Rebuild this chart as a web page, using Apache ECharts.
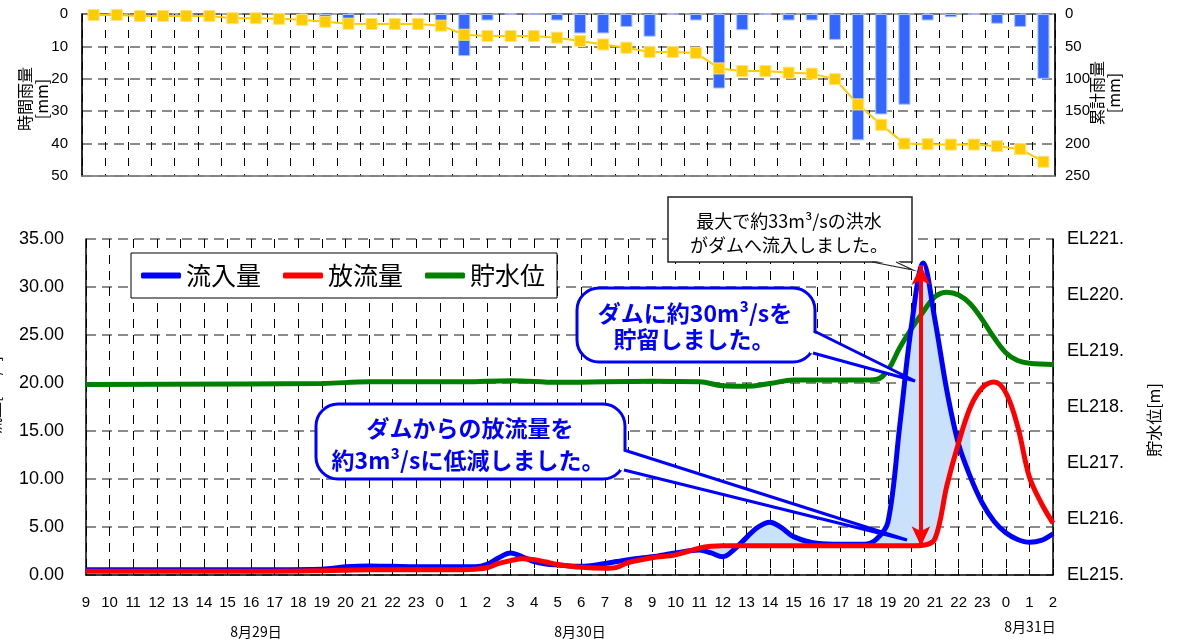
<!DOCTYPE html>
<html><head><meta charset="utf-8">
<script src="https://cdn.jsdelivr.net/npm/echarts@6/dist/echarts.min.js"></script>
<style>html,body{margin:0;padding:0;background:#fff}#c{width:1178px;height:639px}</style>
</head><body><div id="c"></div>
<script>
// ---- data ----
const hourLabels = ['9','10','11','12','13','14','15','16','17','18','19','20','21','22','23',
  '0','1','2','3','4','5','6','7','8','9','10','11','12','13','14','15','16','17','18','19','20','21','22','23',
  '0','1','2'];
const dateLabels = ['8月29日','8月30日','8月31日'];
const rainHourly = [1,0,1,0,0,0,3,0.5,0,1,2.5,2.5,0,0,0,3,13,2,0,0,2,6,6,4,7,0,2,23,5,0,2,2,8,39,31,28,2,1,0,3,4,20];
const rainCumulative = [1.5,1.5,3,3,3,3,6.5,6.5,7.5,9,12,15,15.5,15.5,15.5,18,32,34,34,34,36.5,41.5,47,52,58.5,58.5,60,84,88,88,90.5,92,100.5,139.5,171,200,201,201.5,201.5,204,208.5,228];

// hours since 8/29 9:00
const flowTimes = [0,2,4,6,8,10,11,12,13,14,15,16,16.5,17,17.5,18,18.5,19,19.5,20,21,22,22.5,23,24,25,26,26.5,27,27.5,28,28.5,29,29.5,30,31,32,33,33.5,34,34.5,35,35.5,36,36.5,37,37.5,38,38.5,39,39.5,40,40.5,41];
const inflow = [0.55,0.55,0.55,0.55,0.55,0.6,0.85,0.95,0.9,0.85,0.85,0.85,0.85,1.1,1.8,2.3,1.9,1.4,1.15,1.05,0.9,1.2,1.4,1.6,1.9,2.3,2.6,2.3,1.9,2.7,3.9,5.0,5.5,4.9,4.0,3.3,3.2,3.2,3.7,5.5,15.5,26,32.5,26.5,19.2,13.6,10.2,7.5,5.6,4.4,3.7,3.4,3.6,4.3];
const outflow = [0.4,0.4,0.4,0.4,0.4,0.45,0.5,0.55,0.55,0.55,0.55,0.55,0.6,0.75,1.2,1.5,1.7,1.6,1.35,1.1,0.8,0.7,0.8,1.3,1.8,2.1,2.8,3.0,3.05,3.05,3.05,3.05,3.05,3.05,3.05,3.05,3.05,3.05,3.05,3.05,3.05,3.05,3.1,3.8,9.3,13.8,17.5,19.5,20.1,19.0,15.5,10.2,7.5,5.4];
const levelTimes = [0,10,12,16,18,20,24,26,27,28,29,30,33,33.5,34,34.5,35,35.5,36,36.5,37,37.5,38,38.5,39,39.5,40,41];
const levelValues = [218.4,218.42,218.45,218.45,218.47,218.44,218.46,218.45,218.38,218.37,218.42,218.48,218.48,218.49,218.66,219.06,219.4,219.7,219.97,220.05,220.0,219.84,219.56,219.24,218.97,218.83,218.78,218.76];
const storageStart = 20, storageEnd = 37.5;
const arrowTime = 35.4, arrowTop = 32.3, arrowBottom = 3.0;

// ---- build ----
const pairs = (t, v) => t.map((x, i) => [x, v[i]]);
const storageIdx = flowTimes.map((t, i) => i).filter(i => flowTimes[i] >= storageStart && flowTimes[i] <= storageEnd);

const JP = '"Noto Sans CJK JP", "Noto Sans", sans-serif';
const NUM = '"Liberation Sans", Arial, sans-serif';
const NARROW = '"Liberation Sans Narrow", "Liberation Sans", sans-serif';
const blue = '#0000ff';

const chart = echarts.init(document.getElementById('c'), null, {renderer: 'canvas'});
const option = {
  animation: false,
  backgroundColor: '#fff',
  grid: [
    {left: 82, right: 123, top: 14, height: 162, show: true, borderColor: '#888', borderWidth: 1.5},
    {left: 86, right: 125, top: 239, height: 336}
  ],
  legend: {
    data: ['流入量', '放流量', '貯水位'],
    left: 131, top: 253,
    icon: 'roundRect', itemWidth: 40, itemHeight: 6, itemGap: 22,
    padding: [10, 12, 10, 10],
    backgroundColor: '#fff', borderColor: '#000', borderWidth: 1,
    textStyle: {fontFamily: JP, fontSize: 25, color: '#000'}
  },
  xAxis: [
    {type: 'category', gridIndex: 0, data: hourLabels, boundaryGap: true,
     axisLabel: {show: false}, axisTick: {show: false},
     axisLine: {show: true, onZero: false, lineStyle: {color: '#888', width: 1.5}},
     splitLine: {show: true, lineStyle: {color: '#000', type: [8, 8], width: 1}}},
    {type: 'value', gridIndex: 1, min: 0, max: 41, interval: 1,
     axisLabel: {formatter: v => hourLabels[v], fontSize: 15, color: '#000', fontFamily: NARROW, margin: 20},
     axisTick: {show: true, inside: true, length: 6, lineStyle: {color: '#000'}},
     axisLine: {show: true, onZero: false, lineStyle: {color: '#000', width: 1.5}},
     splitLine: {show: true, lineStyle: {color: '#000', type: [9, 7], width: 1}}}
  ],
  yAxis: [
    {type: 'value', gridIndex: 0, inverse: true, min: 0, max: 50, interval: 10, position: 'left',
     axisLine: {show: true, lineStyle: {color: '#000', width: 1.5}}, axisTick: {show: false},
     axisLabel: {fontSize: 15, color: '#000', fontFamily: NUM, margin: 14},
     splitLine: {show: true, lineStyle: {color: '#666', type: [10, 6], width: 1.5}}},
    {type: 'value', gridIndex: 0, inverse: true, min: 0, max: 250, interval: 50, position: 'right',
     axisLine: {show: true, lineStyle: {color: '#000', width: 1.5}}, axisTick: {show: false},
     axisLabel: {fontSize: 15, color: '#000', fontFamily: NUM, margin: 10},
     splitLine: {show: false}},
    {type: 'value', gridIndex: 1, min: 0, max: 35, interval: 5, position: 'left',
     axisLine: {show: true, lineStyle: {color: '#000', width: 1.5}}, axisTick: {show: false},
     axisLabel: {formatter: v => v.toFixed(2), fontSize: 18, color: '#000', fontFamily: NUM, margin: 22},
     splitLine: {show: true, lineStyle: {color: '#666', type: [10, 6], width: 1.5}}},
    {type: 'value', gridIndex: 1, min: 215, max: 221, interval: 1, position: 'right',
     axisLine: {show: true, lineStyle: {color: '#000', width: 1.5}}, axisTick: {show: false},
     axisLabel: {formatter: v => 'EL' + v + '.', fontSize: 18, color: '#000', fontFamily: NUM, margin: 14},
     splitLine: {show: false}}
  ],
  series: [
    {name: '時間雨量', type: 'bar', xAxisIndex: 0, yAxisIndex: 0, data: rainHourly, barWidth: '52%',
     itemStyle: {color: '#3366ff', borderColor: '#a9c0ff', borderWidth: 1}},
    {name: '累計雨量', type: 'line', xAxisIndex: 0, yAxisIndex: 1, data: rainCumulative,
     symbol: 'rect', symbolSize: 11, lineStyle: {color: '#ffcc00', width: 2},
     itemStyle: {color: '#ffcc00', borderColor: '#ffe27a', borderWidth: 1}},
    {name: 'storage', type: 'custom', xAxisIndex: 1, yAxisIndex: 2, z: 1, silent: true,
     data: [[storageStart, 0]],
     renderItem: function (params, api) {
       const top = storageIdx.map(i => api.coord([flowTimes[i], inflow[i]]));
       const bottom = storageIdx.slice().reverse().map(i => api.coord([flowTimes[i], outflow[i]]));
       return {type: 'polygon', shape: {points: top.concat(bottom)}, style: {fill: '#c9e1fb'}};
     }},
    {name: '貯水位', type: 'line', xAxisIndex: 1, yAxisIndex: 3, data: pairs(levelTimes, levelValues),
     smooth: 0.4, symbol: 'none', lineStyle: {color: '#008000', width: 5}, itemStyle: {color: '#008000'}, z: 3},
    {name: '流入量', type: 'line', xAxisIndex: 1, yAxisIndex: 2, data: pairs(flowTimes, inflow),
     smooth: 0.35, symbol: 'none', lineStyle: {color: blue, width: 5}, itemStyle: {color: blue}, z: 4},
    {name: '放流量', type: 'line', xAxisIndex: 1, yAxisIndex: 2, data: pairs(flowTimes, outflow),
     smooth: 0.35, symbol: 'none', lineStyle: {color: '#ff0000', width: 5}, itemStyle: {color: '#ff0000'}, z: 5,
     markLine: {silent: true, symbol: ['arrow', 'arrow'], symbolSize: [14, 20], label: {show: false},
       lineStyle: {color: '#ff0000', width: 4, type: 'solid'},
       data: [[{coord: [arrowTime, arrowTop]}, {coord: [arrowTime, arrowBottom]}]]}}
  ],
  graphic: [
    // axis names
    {type: 'text', x: 33, y: 99, rotation: Math.PI / 2,
     style: {text: '時間雨量\n[mm]', font: '16px ' + JP, fill: '#000', textAlign: 'center', textVerticalAlign: 'middle', lineHeight: 17}},
    {type: 'text', x: 1105, y: 93, rotation: Math.PI / 2,
     style: {text: '累計雨量\n[mm]', font: '16px ' + JP, fill: '#000', textAlign: 'center', textVerticalAlign: 'middle', lineHeight: 17}},
    {type: 'text', x: 1154, y: 420, rotation: Math.PI / 2,
     style: {text: '貯水位[m]', font: '16px ' + JP, fill: '#000', textAlign: 'center', textVerticalAlign: 'middle'}},
    {type: 'text', x: -6, y: 395, rotation: Math.PI / 2,
     style: {text: '流量[m³/s]', font: '16px ' + JP, fill: '#000', textAlign: 'center', textVerticalAlign: 'middle'}},
    // date labels
    {type: 'text', x: 256, y: 632, style: {text: dateLabels[0], font: '14px ' + JP, fill: '#000', textAlign: 'center', textVerticalAlign: 'middle'}},
    {type: 'text', x: 580, y: 632, style: {text: dateLabels[1], font: '14px ' + JP, fill: '#000', textAlign: 'center', textVerticalAlign: 'middle'}},
    {type: 'text', x: 1030, y: 627, style: {text: dateLabels[2], font: '14px ' + JP, fill: '#000', textAlign: 'center', textVerticalAlign: 'middle'}},
    // callout 1 (black box)
    {type: 'rect', shape: {x: 668, y: 197, width: 244, height: 65}, style: {fill: '#fff', stroke: '#222', lineWidth: 1.5}, z: 100},
    {type: 'polygon', shape: {points: [[872, 260], [896, 260], [913, 270]]}, style: {fill: '#fff'}, z: 101},
    {type: 'polyline', shape: {points: [[872, 262], [913, 270], [896, 262]]}, style: {stroke: '#222', lineWidth: 1.2, fill: null}, z: 102},
    {type: 'text', x: 789, y: 221, style: {text: '最大で約33m³/sの洪水', font: '18px ' + JP, fill: '#000', textAlign: 'center', textVerticalAlign: 'middle'}, z: 103},
    {type: 'text', x: 789, y: 245, style: {text: 'がダムへ流入しました。', font: '18px ' + JP, fill: '#000', textAlign: 'center', textVerticalAlign: 'middle'}, z: 103},
    // callout 2 (blue rounded)
    {type: 'rect', shape: {x: 577, y: 288, width: 238, height: 74, r: 22}, style: {fill: '#fff', stroke: blue, lineWidth: 3}, z: 100},
    {type: 'polygon', shape: {points: [[810, 331], [915, 381], [810, 353]]}, style: {fill: '#fff'}, z: 101},
    {type: 'polyline', shape: {points: [[814, 331], [915, 381], [813, 353]]}, style: {stroke: blue, lineWidth: 3, fill: null}, z: 102},
    {type: 'text', x: 695, y: 313, style: {text: 'ダムに約30m³/sを', font: 'bold 23px ' + JP, fill: blue, textAlign: 'center', textVerticalAlign: 'middle'}, z: 103},
    {type: 'text', x: 694, y: 339, style: {text: '貯留しました。', font: 'bold 23px ' + JP, fill: blue, textAlign: 'center', textVerticalAlign: 'middle'}, z: 103},
    // callout 3 (blue rounded)
    {type: 'rect', shape: {x: 316, y: 404, width: 309, height: 75, r: 22}, style: {fill: '#fff', stroke: blue, lineWidth: 3}, z: 100},
    {type: 'polygon', shape: {points: [[620, 450], [907, 540], [620, 470]]}, style: {fill: '#fff'}, z: 101},
    {type: 'polyline', shape: {points: [[624, 450], [907, 540], [624, 470]]}, style: {stroke: blue, lineWidth: 3, fill: null}, z: 102},
    {type: 'text', x: 470, y: 428, style: {text: 'ダムからの放流量を', font: 'bold 23px ' + JP, fill: blue, textAlign: 'center', textVerticalAlign: 'middle'}, z: 103},
    {type: 'text', x: 468, y: 460, style: {text: '約3m³/sに低減しました。', font: 'bold 23px ' + JP, fill: blue, textAlign: 'center', textVerticalAlign: 'middle'}, z: 103}
  ]
};
chart.setOption(option);
</script></body></html>
